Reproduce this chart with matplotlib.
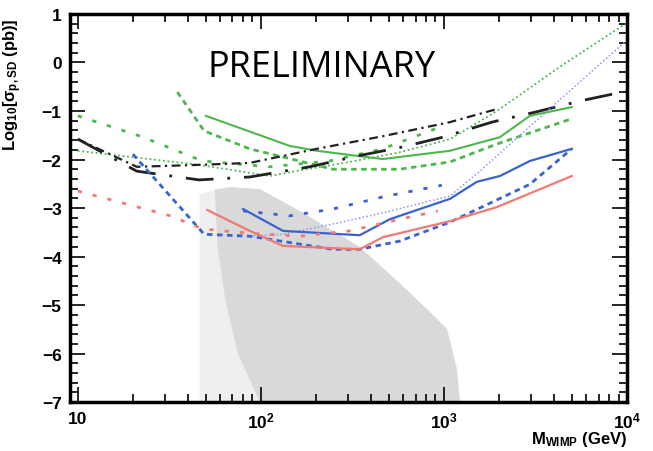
import matplotlib
matplotlib.use('Agg')
import matplotlib.pyplot as plt
from matplotlib.ticker import MultipleLocator, LogLocator, NullFormatter

plt.rcParams['font.family'] = ['Liberation Sans', 'DejaVu Sans']
plt.rcParams['mathtext.fontset'] = 'custom'
plt.rcParams['mathtext.rm'] = 'Liberation Sans:bold'
plt.rcParams['mathtext.bf'] = 'Liberation Sans:bold'
plt.rcParams['mathtext.it'] = 'Liberation Sans:bold'

# limites (masse WIMP en GeV, log10 section efficace)
green_solid_m = [50, 144, 202, 464, 1080, 2024, 2951, 5000]
green_solid_y = [-1.10, -1.72, -1.82, -1.99, -1.82, -1.54, -1.10, -0.92]

green_dash_m = [35, 49, 87, 247, 575, 1080, 1950, 5000]
green_dash_y = [-0.61, -1.41, -1.78, -2.20, -2.20, -2.05, -1.68, -1.16]

green_dashdot_m = [10, 22, 48, 112, 238, 464, 951]
green_dashdot_y = [-1.10, -1.52, -2.03, -2.15, -2.03, -1.78, -1.33]

green_dot_m = [10, 46, 112, 144, 306, 575, 1080, 1950, 4305, 9750]
green_dot_y = [-1.82, -2.11, -2.34, -2.26, -2.05, -1.85, -1.58, -1.00, -0.09, 0.79]

black_dashdot_m = [10, 21, 46, 87, 202, 464, 1080, 1950]
black_dashdot_y = [-1.58, -2.15, -2.11, -2.07, -1.78, -1.52, -1.23, -0.96]

black_long_m = [10, 21, 46, 87, 185, 335, 597, 988, 1828, 3185, 5610, 10000]
black_long_y = [-1.58, -2.24, -2.42, -2.36, -2.15, -1.93, -1.74, -1.54, -1.23, -1.02, -0.79, -0.59]

blue_dash_m = [20, 49, 87, 247, 347, 575, 1080, 2951, 5000]
blue_dash_y = [-1.89, -3.54, -3.58, -3.85, -3.85, -3.68, -3.29, -2.51, -1.78]

blue_solid_m = [80, 132, 347, 507, 1080, 1514, 2024, 2951, 5000]
blue_solid_y = [-3.02, -3.47, -3.56, -3.23, -2.81, -2.46, -2.34, -2.03, -1.78]

blue_dashdot_m = [80, 144, 247, 464, 975]
blue_dashdot_y = [-3.06, -3.16, -3.02, -2.77, -2.53]

blue_dot_m = [87, 132, 247, 464, 1080, 1575, 2844, 9750]
blue_dot_y = [-3.58, -3.54, -3.33, -3.10, -2.75, -2.24, -1.37, 0.42]

red_solid_m = [51, 87, 132, 347, 464, 1080, 1950, 5000]
red_solid_y = [-3.04, -3.47, -3.78, -3.85, -3.60, -3.27, -2.98, -2.34]

red_dashdot_m = [10, 17, 32, 48, 87, 163, 306, 575, 926]
red_dashdot_y = [-2.65, -2.88, -3.16, -3.43, -3.52, -3.58, -3.47, -3.23, -3.06]

# région des modèles (nuage gris)
gray_m = [46, 56, 68, 99, 163, 347, 597, 838, 1038, 1177, 1223]
gray_top = [-2.71, -2.62, -2.57, -2.61, -3.06, -3.80, -4.61, -5.14, -5.49, -6.32, -7.0]
dense_left_m = [99, 75, 64, 58, 56]
dense_left_y = [-7.0, -6.0, -4.9, -3.8, -2.62]

fig = plt.figure(figsize=(6.53, 4.52), dpi=100)
ax = fig.add_axes([0.107, 0.108, 0.853, 0.859])

ax.fill_between(gray_m, gray_top, -7, color='#efefef', lw=0)
ax.fill(dense_left_m + gray_m[1:], dense_left_y + gray_top[1:], color='#d9d9d9', lw=0)

green = '#4cb84c'
blue = '#3a62d0'
lblue = '#8a96ee'
red = '#f07a72'

ax.plot(green_dot_m, green_dot_y, color=green, lw=1.3, ls=(0, (1, 1.5)))
ax.plot(green_dashdot_m, green_dashdot_y, color=green, lw=2, ls=(0, (1.5, 4, 1.5, 4)))
ax.plot(green_dash_m, green_dash_y, color=green, lw=2, ls=(0, (2, 1.6)))
ax.plot(green_solid_m, green_solid_y, color=green, lw=1.5)

ax.plot(black_dashdot_m, black_dashdot_y, color='#222222', lw=1.6, ls=(0, (4, 2, 1, 2)))
ax.plot(black_long_m, black_long_y, color='#222222', lw=2, ls=(0, (10, 5, 1, 5)))

ax.plot(blue_dot_m, blue_dot_y, color=lblue, lw=1.1, ls=(0, (1, 1.5)))
ax.plot(blue_dashdot_m, blue_dashdot_y, color=blue, lw=2, ls=(0, (1.5, 4, 1.5, 4)))
ax.plot(blue_dash_m, blue_dash_y, color=blue, lw=2, ls=(0, (2, 1.6)))
ax.plot(blue_solid_m, blue_solid_y, color=blue, lw=1.6)

ax.plot(red_dashdot_m, red_dashdot_y, color=red, lw=2, ls=(0, (1.5, 4, 1.5, 4)))
ax.plot(red_solid_m, red_solid_y, color=red, lw=1.6)

ax.set_xscale('log')
ax.set_xlim(9.05, 10000)
ax.set_ylim(-7, 1)

ax.set_xticks([10, 100, 1000, 10000])
ax.set_xticklabels(['10', r'$10^2$', r'$10^3$', r'$10^4$'])
ax.xaxis.set_minor_locator(LogLocator(base=10, subs=range(2, 10), numticks=20))
ax.xaxis.set_minor_formatter(NullFormatter())
ax.yaxis.set_major_locator(MultipleLocator(1))
ax.yaxis.set_minor_locator(MultipleLocator(0.2))

ax.tick_params(which='both', direction='in', top=True, right=True, width=1.2)
ax.tick_params(which='major', length=11, labelsize=12.5, pad=6)
ax.tick_params(which='minor', length=6)
for lab in ax.get_xticklabels() + ax.get_yticklabels():
    lab.set_fontweight('bold')
for s in ax.spines.values():
    s.set_linewidth(2.5)

ax.set_ylabel(r'Log$_{10}$[$\sigma_{p,SD}$ (pb)]', fontsize=12, fontweight='bold')
ax.yaxis.set_label_coords(-0.083, 0.82)
ax.set_xlabel(r'M$_{WIMP}$ (GeV)', fontsize=12, fontweight='bold', loc='right')
ax.xaxis.set_label_coords(1.0, -0.07)

ax.text(0.452, 0.863, 'PRELIMINARY', transform=ax.transAxes, ha='center', va='center',
        fontsize=26, family=['Open Sans', 'DejaVu Sans'])

fig.savefig('out.png', dpi=100)
